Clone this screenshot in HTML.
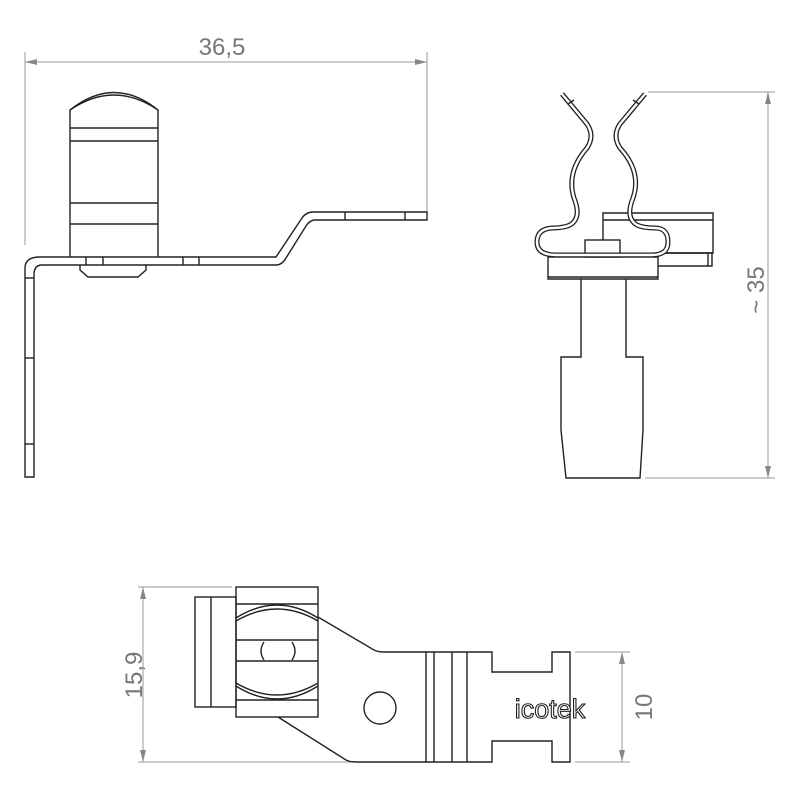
<!DOCTYPE html>
<html><head><meta charset="utf-8"><style>html,body{margin:0;padding:0;background:#fff}svg{display:block}</style></head>
<body>
<svg width="800" height="800" viewBox="0 0 800 800" xmlns="http://www.w3.org/2000/svg" font-family="Liberation Sans, sans-serif">
<defs>
<marker id="a" viewBox="0 0 12 6" refX="12" refY="3" markerWidth="12" markerHeight="6" orient="auto-start-reverse" markerUnits="userSpaceOnUse"><path d="M0,0 L12,3 L0,6 z" fill="#888"/></marker>
</defs>
<g stroke="#999" stroke-width="1" fill="none">
<line x1="25" y1="62" x2="427" y2="62" marker-start="url(#a)" marker-end="url(#a)"/>
<line x1="25" y1="52" x2="25" y2="245"/>
<line x1="427" y1="52" x2="427" y2="212"/>
<line x1="768" y1="92" x2="768" y2="478" marker-start="url(#a)" marker-end="url(#a)"/>
<line x1="648" y1="92" x2="775" y2="92"/>
<line x1="645" y1="478" x2="775" y2="478"/>
<line x1="143" y1="587" x2="143" y2="762" marker-start="url(#a)" marker-end="url(#a)"/>
<line x1="138" y1="587" x2="232" y2="587"/>
<line x1="138" y1="762" x2="352" y2="762"/>
<line x1="622" y1="652" x2="622" y2="762" marker-start="url(#a)" marker-end="url(#a)"/>
<line x1="575" y1="652" x2="630" y2="652"/>
<line x1="575" y1="762" x2="630" y2="762"/>
</g>
<g fill="#777" font-size="24">
<text x="222" y="55" text-anchor="middle">36,5</text>
<text transform="translate(764,290) rotate(-90)" text-anchor="middle">~ 35</text>
<text transform="translate(142,675) rotate(-90)" text-anchor="middle">15,9</text>
<text transform="translate(652,707) rotate(-90)" text-anchor="middle">10</text>
</g>
<!-- side view -->
<g stroke="#222" stroke-width="1.4" fill="none">
<path d="M70,257 L70,110 Q114,75 158,110 L158,257"/>
<path d="M70,110 Q114,80 158,110"/>
<line x1="70" y1="128" x2="158" y2="128"/><line x1="70" y1="141" x2="158" y2="141"/>
<line x1="70" y1="203" x2="158" y2="203"/><line x1="70" y1="224" x2="158" y2="224"/>
<path d="M25,477 L25,268 Q25,257 40,257 L276,257 L302,218 Q306,212 313,212 L427,212 L427,220 L315,220 Q310,220 306,226 L286,258 Q282,265 276,265 L42,265 Q34,265 34,275 L34,477 Z"/>
<line x1="86" y1="257" x2="86" y2="265"/><line x1="103" y1="257" x2="103" y2="265"/>
<line x1="183" y1="257" x2="183" y2="265"/><line x1="199" y1="257" x2="199" y2="265"/>
<line x1="345" y1="212" x2="345" y2="220"/><line x1="405" y1="212" x2="405" y2="220"/>
<line x1="25" y1="278" x2="34" y2="278"/><line x1="25" y1="358" x2="34" y2="358"/><line x1="25" y1="444" x2="34" y2="444"/>
<path d="M80,265 L80,270 L88,277 L138,277 L146,270 L146,265"/>
</g>
<!-- front view -->
<g stroke="#222" stroke-width="1.4" fill="none">
<path d="M603,240 L603,213 L713,213 L713,253 L658,253"/>
<line x1="603" y1="220" x2="713" y2="220"/>
<path d="M658,253 L712,253 L712,266 L658,266"/><line x1="708" y1="253" x2="708" y2="266"/>
<rect x="585" y="240" width="35" height="17" fill="#fff"/>
<path d="M548,257 L658,257 L658,279 L548,279 Z"/><line x1="548" y1="277" x2="658" y2="277"/>
<path d="M581,279 L581,357 L561,357 L561,430 L566,478 L640,478 L643,430 L643,357 L626,357 L626,279"/>
</g>
<g fill="none">
<path d="M562,94 L587,124 Q595,136 587,148 Q566,172 574,198 Q582,218 570,225 Q564,228 552,228 Q537,229 537,242 Q537,255 556,255 L652,255 Q668,255 668,242 Q668,228 655,228 Q643,228 637,225 Q625,218 633,198 Q642,172 620,148 Q612,136 620,124 L645,94" stroke="#222" stroke-width="5"/>
<path d="M562,94 L587,124 Q595,136 587,148 Q566,172 574,198 Q582,218 570,225 Q564,228 552,228 Q537,229 537,242 Q537,255 556,255 L652,255 Q668,255 668,242 Q668,228 655,228 Q643,228 637,225 Q625,218 633,198 Q642,172 620,148 Q612,136 620,124 L645,94" stroke="#fff" stroke-width="2.4"/>
</g>
<g stroke="#222" stroke-width="1.4"><line x1="568" y1="104" x2="574" y2="100"/><line x1="639" y1="104" x2="633" y2="100"/></g>
<!-- top view -->
<g stroke="#222" stroke-width="1.4" fill="none">
<rect x="195" y="597" width="41" height="110"/><line x1="211" y1="597" x2="211" y2="707"/>
<rect x="236" y="587" width="82" height="130"/>
<line x1="236" y1="604" x2="318" y2="604"/><line x1="236" y1="700" x2="318" y2="700"/>
<line x1="236" y1="640" x2="318" y2="640"/><line x1="236" y1="661" x2="318" y2="661"/>
<path d="M236,618 Q277,592 318,618"/><path d="M236,686 Q277,712 318,686"/>
<path d="M236,621 Q277,597 318,621"/><path d="M236,683 Q277,707 318,683"/>
<path d="M264,642 Q258,651 264,660 M292,642 Q298,651 292,660"/>
<path d="M318,617 L374,650 Q378,652 384,652 L426,652"/>
<path d="M278,717 L346,760 Q350,762 356,762 L426,762"/>
<circle cx="380" cy="708" r="16"/>
<path d="M426,652 L492,652 L492,672 L552,672 L552,652 L570,652 L570,762 L552,762 L552,741 L492,741 L492,762 L426,762 Z"/>
<line x1="434" y1="652" x2="434" y2="762"/>
<line x1="452" y1="652" x2="452" y2="762"/><line x1="467" y1="652" x2="467" y2="762"/>
</g>
<text x="550" y="718" text-anchor="middle" font-size="27" fill="#fff" stroke="#222" stroke-width="1.1">icotek</text>
</svg>
</body></html>
